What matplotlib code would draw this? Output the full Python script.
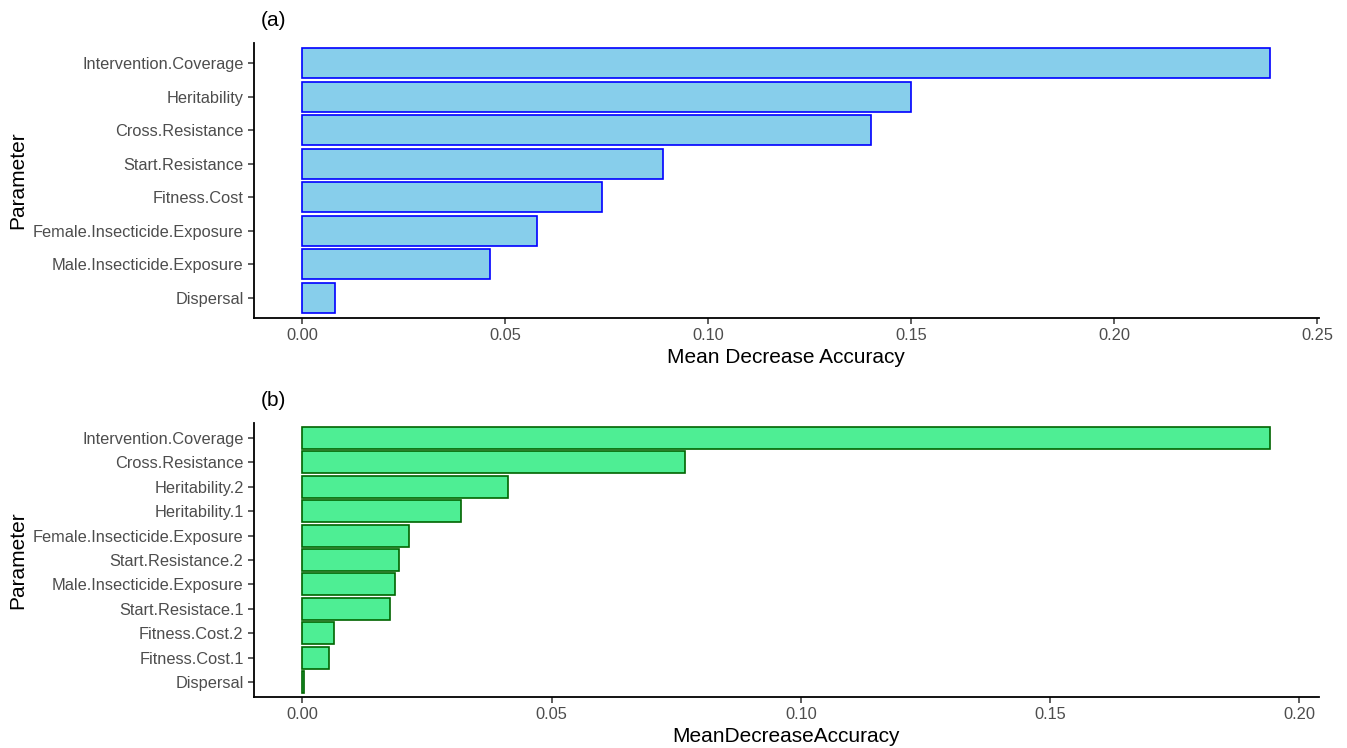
import matplotlib
matplotlib.use('Agg')
import matplotlib.pyplot as plt

plt.rcParams['font.family'] = ['Liberation Sans', 'DejaVu Sans']

# panel (a) data, top to bottom
params_a = ['Intervention.Coverage', 'Heritability', 'Cross.Resistance',
            'Start.Resistance', 'Fitness.Cost', 'Female.Insecticide.Exposure',
            'Male.Insecticide.Exposure', 'Dispersal']
mda_a = [0.2384, 0.1499, 0.1401, 0.0887, 0.0738, 0.0578, 0.0463, 0.0081]
ticks_a = [0.00, 0.05, 0.10, 0.15, 0.20, 0.25]

# panel (b) data, top to bottom
params_b = ['Intervention.Coverage', 'Cross.Resistance', 'Heritability.2',
            'Heritability.1', 'Female.Insecticide.Exposure', 'Start.Resistance.2',
            'Male.Insecticide.Exposure', 'Start.Resistace.1', 'Fitness.Cost.2',
            'Fitness.Cost.1', 'Dispersal']
mda_b = [0.1942, 0.0768, 0.0413, 0.0319, 0.0214, 0.0194, 0.0185, 0.0175,
         0.0064, 0.0054, 0.0003]
ticks_b = [0.00, 0.05, 0.10, 0.15, 0.20]

fig = plt.figure(figsize=(13.47, 7.48), dpi=100)


def panel(rect, names, vals, ticks, fill, edge, xlabel, tag):
    ax = fig.add_axes(rect)
    n = len(names)
    ypos = list(range(n, 0, -1))
    ax.barh(ypos, vals, height=0.9, color=fill, edgecolor=edge, linewidth=1.2)
    ax.set_yticks(ypos)
    ax.set_yticklabels(names)
    ax.set_ylim(0.4, n + 0.6)
    m = max(vals)
    ax.set_xlim(-0.05 * m, 1.05 * m)
    ax.set_xticks(ticks)
    ax.set_xticklabels(['%.2f' % t for t in ticks])
    for s in ['top', 'right']:
        ax.spines[s].set_visible(False)
    for s in ['left', 'bottom']:
        ax.spines[s].set_linewidth(1.3)
    ax.tick_params(axis='both', length=4, width=1.1, colors='#333333',
                   labelcolor='#4D4D4D', labelsize=11.8)
    ax.set_xlabel(xlabel, fontsize=15, labelpad=3)
    ax.set_ylabel('Parameter', fontsize=15, labelpad=4)
    ax.set_title(tag, loc='left', fontsize=15, pad=12, x=0.006)
    return ax


panel([0.1886, 0.5749, 0.7904, 0.3676], params_a, mda_a, ticks_a,
      '#87CEEB', '#0000FF', 'Mean Decrease Accuracy', '(a)')
panel([0.1886, 0.0682, 0.7904, 0.3663], params_b, mda_b, ticks_b,
      '#4EEE94', '#006400', 'MeanDecreaseAccuracy', '(b)')

fig.savefig('out.png', dpi=100)
